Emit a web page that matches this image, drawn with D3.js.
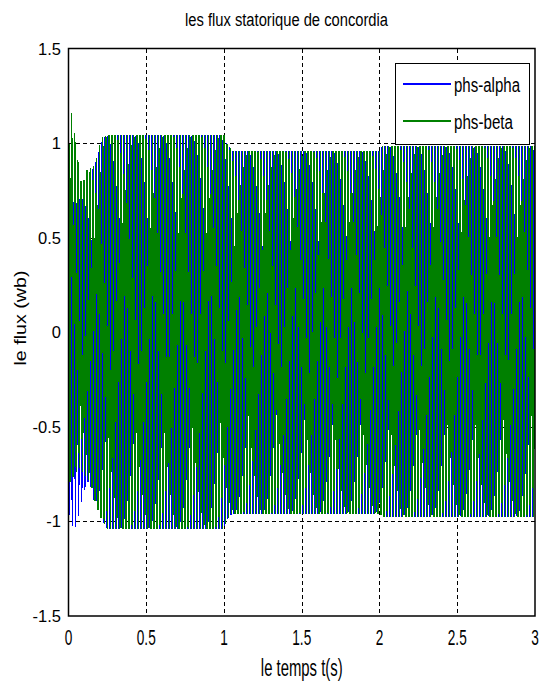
<!DOCTYPE html>
<html>
<head>
<meta charset="utf-8">
<script src="https://cdn.jsdelivr.net/npm/d3@7"></script>
<style>
  html, body { margin: 0; padding: 0; background: #fff; }
  svg { display: block; }
  text { font-family: "Liberation Sans", Arial, sans-serif; fill: #000; }
</style>
</head>
<body>
<svg id="chart" width="541" height="690"></svg>
<script>
// ---- chart text ----
const chartTitle = "les flux statorique de concordia";
const xAxisLabel = "le temps t(s)";
const yAxisLabel = "le flux (wb)";

// ---- axes ----
const xTicks = [0, 0.5, 1, 1.5, 2, 2.5, 3];
const xTickLabels = ["0", "0.5", "1", "1.5", "2", "2.5", "3"];
const yTicks = [-1.5, -1, -0.5, 0, 0.5, 1, 1.5];
const yTickLabels = ["-1.5", "-1", "-0.5", "0", "0.5", "1", "1.5"];

// ---- series ----
const seriesNames = ["phs-alpha", "phs-beta"];
const seriesColors = ["#0000ff", "#008000"];
const seriesWidths = [1.2, 1.3];

// stator supply frequency (Hz) and simulation output step (s)
const supplyFrequency = 50;
const sampleStep = 0.0005;
const tEnd = 3;

// envelope of each flux component: instants (s) and upper / lower peaks (Wb)
const envTimes   = [0, 0.02, 0.05, 0.07, 0.09, 0.12, 0.14, 0.16, 0.18, 0.20, 0.22, 0.25, 1.00, 1.015, 1.05, 2.00, 2.02, 3.00];
const alphaUpper = [0.72, 0.70, 0.68, 0.70, 0.74, 0.80, 0.84, 0.87, 0.91, 0.97, 1.02, 1.04, 1.04, 1.00, 0.96, 0.96, 0.985, 0.985];
const alphaLower = [-0.95, -1.02, -1.03, -0.95, -0.88, -0.79, -0.80, -0.88, -0.93, -0.97, -1.00, -1.04, -1.04, -1.00, -0.96, -0.96, -0.975, -0.975];
const betaUpper  = [1.27, 1.16, 1.00, 0.82, 0.78, 0.86, 0.87, 0.88, 0.92, 0.99, 1.03, 1.04, 1.04, 1.00, 0.96, 0.96, 0.985, 0.985];
const betaLower  = [-0.80, -0.78, -0.74, -0.72, -0.74, -0.77, -0.79, -0.86, -0.92, -0.96, -1.00, -1.04, -1.04, -1.00, -0.96, -0.96, -0.975, -0.975];

// ---- layout ----
const svg = d3.select("#chart");
const W = 541, H = 690;
const plot = { left: 68.5, right: 535, top: 48.5, bottom: 616 };

svg.append("rect").attr("width", W).attr("height", H).attr("fill", "#fff");

const x = d3.scaleLinear().domain([0, 3]).range([plot.left, plot.right]);
const y = d3.scaleLinear().domain([-1.5, 1.5]).range([plot.bottom, plot.top]);

// grid (dashed, under the traces)
const grid = svg.append("g").attr("stroke", "#000").attr("stroke-width", 1)
  .attr("stroke-dasharray", "4,3").attr("shape-rendering", "crispEdges");
xTicks.slice(1, -1).forEach(v => {
  grid.append("line").attr("x1", Math.round(x(v)) + 0.5).attr("x2", Math.round(x(v)) + 0.5)
    .attr("y1", plot.top).attr("y2", plot.bottom);
});
yTicks.slice(1, -1).forEach(v => {
  grid.append("line").attr("y1", Math.round(y(v)) + 0.5).attr("y2", Math.round(y(v)) + 0.5)
    .attr("x1", plot.left).attr("x2", plot.right);
});

// ---- traces ----
svg.append("clipPath").attr("id", "plotClip").append("rect")
  .attr("x", plot.left).attr("y", plot.top)
  .attr("width", plot.right - plot.left).attr("height", plot.bottom - plot.top);

const envScale = arr => d3.scaleLinear().domain(envTimes).range(arr).clamp(true);
function buildSeries(upper, lower, phase) {
  const up = envScale(upper), lo = envScale(lower);
  const pts = [];
  const n = Math.round(tEnd / sampleStep);
  for (let i = 0; i <= n; i++) {
    const t = i * sampleStep;
    const mid = (up(t) + lo(t)) / 2, half = (up(t) - lo(t)) / 2;
    pts.push([t, mid + half * Math.cos(2 * Math.PI * supplyFrequency * t + phase)]);
  }
  return pts;
}
const seriesData = [
  buildSeries(alphaUpper, alphaLower, Math.PI / 2),
  buildSeries(betaUpper, betaLower, 0)
];

const line = d3.line().x(d => x(d[0])).y(d => y(d[1]));
const traces = svg.append("g").attr("clip-path", "url(#plotClip)")
  .attr("shape-rendering", "crispEdges");
seriesData.forEach((pts, i) => {
  traces.append("path").datum(pts).attr("d", line)
    .attr("fill", "none").attr("stroke", seriesColors[i]).attr("stroke-width", seriesWidths[i]);
});

// ---- axes box ----
svg.append("rect").attr("x", plot.left).attr("y", plot.top)
  .attr("width", plot.right - plot.left).attr("height", plot.bottom - plot.top)
  .attr("fill", "none").attr("stroke", "#000").attr("stroke-width", 1.5);

// tick labels
const xAxisG = svg.append("g");
xTicks.forEach((v, i) => {
  xAxisG.append("text")
    .attr("transform", `translate(${x(v)},645) scale(0.62,1)`)
    .attr("text-anchor", "middle").attr("font-size", 22).text(xTickLabels[i]);
});
const yAxisG = svg.append("g");
yTicks.forEach((v, i) => {
  yAxisG.append("text").attr("x", 61).attr("y", y(v) + 6)
    .attr("text-anchor", "end").attr("font-size", 16.5).text(yTickLabels[i]);
});

// title and axis labels
svg.append("text").attr("x", 286.5).attr("y", 26)
  .attr("text-anchor", "middle").attr("font-size", 18)
  .attr("textLength", 203).attr("lengthAdjust", "spacingAndGlyphs").text(chartTitle);
svg.append("text")
  .attr("transform", `translate(${(plot.left + plot.right) / 2},676) scale(0.62,1)`)
  .attr("text-anchor", "middle").attr("font-size", 24).text(xAxisLabel);
svg.append("text")
  .attr("transform", "translate(26,318) rotate(-90)")
  .attr("text-anchor", "middle").attr("font-size", 17)
  .attr("textLength", 95).attr("lengthAdjust", "spacingAndGlyphs").text(yAxisLabel);

// ---- legend ----
const lg = svg.append("g");
lg.append("rect").attr("x", 395.5).attr("y", 63.5).attr("width", 134).attr("height", 81)
  .attr("fill", "#fff").attr("stroke", "#000").attr("stroke-width", 1);
const legendRowY = [84, 121];
const legendTextLen = [66, 59];
seriesNames.forEach((name, i) => {
  lg.append("line").attr("x1", 403).attr("x2", 451)
    .attr("y1", legendRowY[i]).attr("y2", legendRowY[i])
    .attr("stroke", seriesColors[i]).attr("stroke-width", 2);
  lg.append("text").attr("x", 454).attr("y", legendRowY[i] + 8)
    .attr("font-size", 20).attr("textLength", legendTextLen[i])
    .attr("lengthAdjust", "spacingAndGlyphs").text(name);
});
</script>
</body>
</html>
